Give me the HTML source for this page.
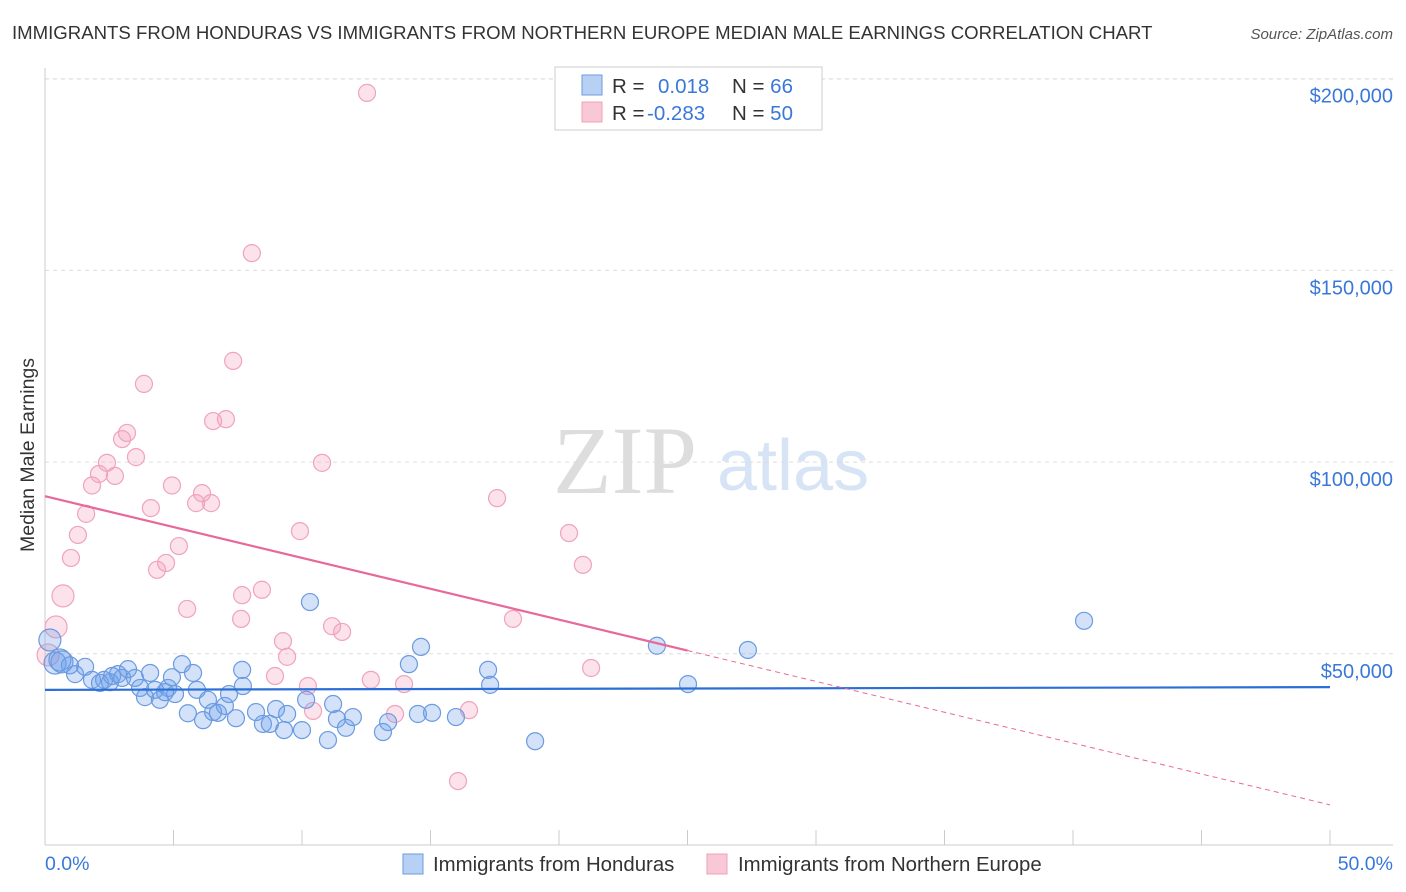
<!DOCTYPE html>
<html><head><meta charset="utf-8"><style>
body{margin:0;background:#fff;font-family:"Liberation Sans",sans-serif;}
svg{display:block}
</style></head><body>
<svg id="chart" width="1406" height="892">
<text x="12" y="39" font-size="18.6" fill="#333">IMMIGRANTS FROM HONDURAS VS IMMIGRANTS FROM NORTHERN EUROPE MEDIAN MALE EARNINGS CORRELATION CHART</text>
<text x="1393" y="39" font-size="15" fill="#555" font-style="italic" text-anchor="end">Source: ZipAtlas.com</text>
<text x="34" y="455" font-size="19.5" fill="#333" text-anchor="middle" transform="rotate(-90 34 455)">Median Male Earnings</text>
<g>
<text x="553" y="493" font-size="96" fill="#ddd" font-family="Liberation Serif,serif">ZIP</text>
<text x="717" y="490" font-size="72" fill="#d6e4f5">atlas</text>
</g>
<g id="grid"></g><g id="marks"></g>
<g>
<rect x="555" y="67" width="267" height="63" fill="#fff" stroke="#ccc"/>
<rect x="582" y="75" width="20" height="20" fill="#b8d0f3" stroke="#6a9be0"/>
<rect x="582" y="102" width="20" height="20" fill="#f9c8d6" stroke="#f0a0b8"/>
<text x="612" y="93" font-size="20.5" fill="#333">R = <tspan fill="#3a78d8" x="658">0.018</tspan><tspan x="732" fill="#333">N = </tspan><tspan fill="#3a78d8">66</tspan></text>
<text x="612" y="120" font-size="20.5" fill="#333">R = <tspan fill="#3a78d8" x="647">-0.283</tspan><tspan x="732" fill="#333">N = </tspan><tspan fill="#3a78d8">50</tspan></text>
</g>
<text x="45" y="870" font-size="19.5" fill="#3a78d8">0.0%</text>
<text x="1393" y="870" font-size="19.5" fill="#3a78d8" text-anchor="end">50.0%</text>
<g>
<rect x="403" y="854" width="20" height="20" fill="#b8d0f3" stroke="#6a9be0"/>
<text x="433" y="871" font-size="20.4" fill="#333">Immigrants from Honduras</text>
<rect x="707" y="854" width="20" height="20" fill="#f9c8d6" stroke="#f0a0b8"/>
<text x="738" y="871" font-size="20.4" fill="#333">Immigrants from Northern Europe</text>
</g>
</svg>
<script>
const yTicks=[50000,100000,150000,200000];
const yTickLabels=["$50,000","$100,000","$150,000","$200,000"];
const xTicks=[0,5,10,15,20,25,30,35,40,45,50];
const blueX=[0.19,0.39,0.66,1.17,1.56,1.83,2.14,2.30,2.61,2.84,3.00,3.23,3.50,3.70,3.89,4.09,4.28,4.47,4.79,4.94,5.06,5.33,5.56,5.76,5.91,6.15,6.34,6.54,6.73,7.00,7.16,7.43,7.67,7.70,8.21,8.48,8.75,8.99,9.30,9.42,10.0,10.16,10.31,11.01,11.21,11.36,11.71,11.98,13.15,13.35,14.16,14.51,14.63,15.06,15.99,17.24,17.32,19.07,23.81,25.02,27.35,40.43,0.58,0.97,2.53,4.67];
const blueY=[53.6,47.6,47.9,44.7,46.6,43.2,42.4,43.2,44.2,44.7,43.7,46.0,43.7,41.1,38.7,45.0,40.6,38.0,41.1,43.9,39.5,47.3,34.5,45.0,40.6,32.7,38.0,34.8,34.6,36.4,39.5,33.2,45.8,41.6,34.8,31.7,31.7,35.6,30.1,34.3,30.1,38.0,63.5,27.5,36.9,33.0,30.7,33.5,29.6,32.2,47.3,34.3,51.8,34.6,33.5,45.8,41.9,27.2,52.1,42.1,51.0,58.6,48.4,47.0,42.6,40.0];
const pinkX=[12.53,8.05,7.32,3.85,7.04,6.54,3.19,3.00,3.54,2.41,10.78,2.10,2.72,1.83,4.94,6.11,17.59,5.88,6.46,4.12,1.60,9.92,20.39,1.28,5.21,1.01,4.71,4.36,20.93,8.44,7.67,0.70,5.53,7.63,18.21,11.17,11.56,0.43,9.26,0.12,9.42,21.25,8.95,10.23,12.68,13.97,10.43,13.62,16.50,16.07];
const pinkY=[196.3,154.5,126.4,120.4,111.2,110.7,107.6,106.0,101.3,99.8,99.8,96.9,96.4,93.9,93.9,91.9,90.6,89.3,89.3,88.0,86.5,82.0,81.5,81.0,78.1,75.0,73.7,71.9,73.2,66.7,65.3,65.1,61.7,59.1,59.1,57.2,55.7,57.0,53.3,49.7,49.2,46.3,44.2,41.6,43.2,42.1,35.1,34.3,35.3,16.8];
const blueTrend=[40.6,41.3];
const pinkTrend=[91.1,10.6];
const NS="http://www.w3.org/2000/svg";
const X=v=>45+v/50*1285;
const Y=v=>845.5-v/50000*191.7;
const Yk=v=>Y(v*1000);
function mk(t,a,p){const e=document.createElementNS(NS,t);for(const k in a)e.setAttribute(k,a[k]);p.appendChild(e);return e;}
const grid=document.getElementById('grid'),marks=document.getElementById('marks');
yTicks.forEach((v,i)=>{
 const l=mk('line',{x1:45,x2:1393,y1:Y(v),y2:Y(v),stroke:'#ddd','stroke-dasharray':'4,4'},grid);
 
 
 const t=mk('text',{x:1393,y:Y(v)+24,'font-size':20,fill:'#3a78d8','text-anchor':'end'},grid);
 t.textContent=yTickLabels[i];
 
 
});
const topGrid=mk('line',{x1:45,x2:1393,y1:79,y2:79,stroke:'#ddd','stroke-dasharray':'4,4'},grid);


const ya=mk('line',{x1:45,x2:45,y1:68,y2:845,stroke:'#ccc'},grid);


const xa=mk('line',{x1:45,x2:1393,y1:845,y2:845,stroke:'#ccc'},grid);


xTicks.forEach(v=>{
 const t=mk('line',{x1:X(v),x2:X(v),y1:830,y2:845,stroke:'#ccc'},grid);
 
 
});
function pts(xs,ys,fill,stroke,name){
 xs.forEach((x,i)=>{
  const r=(x<0.8)?11:8.5;
  const c=mk('circle',{cx:X(x),cy:Yk(ys[i]),r:r,fill:fill,stroke:stroke,'stroke-width':1.2},marks);
  
  
 });
}
pts(pinkX,pinkY,'rgba(244,160,190,0.3)','#f0a3bb','pink-point');
pts(blueX,blueY,'rgba(110,160,235,0.3)','#6a9be0','blue-point');
const bt=mk('line',{x1:X(0),x2:X(50),y1:Yk(blueTrend[0]),y2:Yk(blueTrend[1]),stroke:'#2b6fd6','stroke-width':2.2},marks);


const pm=pinkTrend[0]+(pinkTrend[1]-pinkTrend[0])*0.5;
const ps=mk('line',{x1:X(0),x2:X(25),y1:Yk(pinkTrend[0]),y2:Yk(pm),stroke:'#e8689a','stroke-width':2.2},marks);


const pd=mk('line',{x1:X(25),x2:X(50),y1:Yk(pm),y2:Yk(pinkTrend[1]),stroke:'#e8689a','stroke-width':1,'stroke-dasharray':'5,4'},marks);


</script>
</body></html>
